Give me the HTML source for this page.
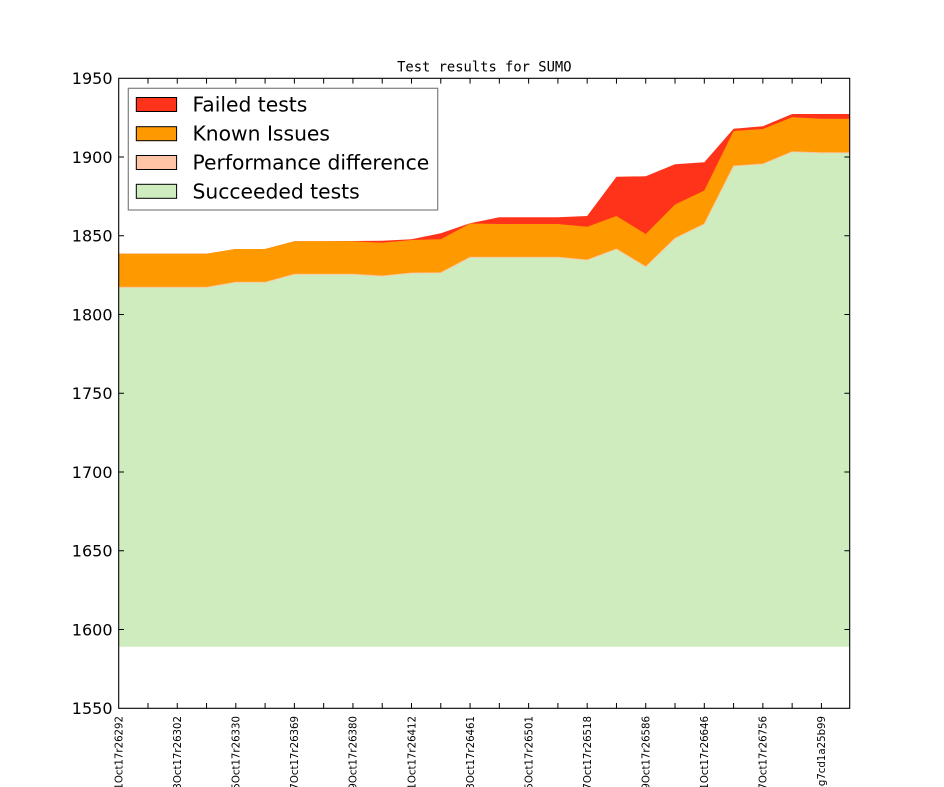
<!DOCTYPE html>
<html>
<head>
<meta charset="utf-8">
<style>
  html,body{margin:0;padding:0;background:#fff;width:944px;height:787px;overflow:hidden;}
  svg{display:block;overflow:hidden;}
  .tk{font-family:"DejaVu Sans","Liberation Sans",sans-serif;}
</style>
</head>
<body>
<svg width="944" height="787" viewBox="0 0 944 787" xmlns="http://www.w3.org/2000/svg">
  <rect x="0" y="0" width="944" height="787" fill="#ffffff"/>
  <defs>
    <clipPath id="ax"><rect x="118.7" y="78.3" width="731" height="630"/></clipPath>
  </defs>

  <text x="484.3" y="71.7" text-anchor="middle" font-family="'DejaVu Sans Mono','Liberation Mono',monospace" font-size="13.8" fill="#000">Test results for SUMO</text>

  <g clip-path="url(#ax)">
    <polygon fill="#ff331a" points="118.7,600 118.7,253.7 147.98,253.7 177.26,253.7 206.54,253.7 235.82,249 265.1,249 294.38,241.3 323.66,241.3 352.94,241.0 382.22,240.7 411.5,239.3 440.78,233.3 470.06,223.3 499.34,217.3 528.62,217.3 557.9,217.3 587.18,216 616.46,176.7 645.74,176.3 675.02,164.3 704.3,162.3 733.58,128.7 762.86,126.3 792.14,114 821.42,114 850.7,114 850.7,600"/>
    <polygon fill="#ff9900" points="118.7,600 118.7,253.7 147.98,253.7 177.26,253.7 206.54,253.7 235.82,249 265.1,249 294.38,241.3 323.66,241.3 352.94,241.3 382.22,242.7 411.5,240 440.78,239.3 470.06,223.5 499.34,224 528.62,224 557.9,224 587.18,226.7 616.46,216 645.74,234 675.02,204.5 704.3,190.5 733.58,131 762.86,129 792.14,117.3 821.42,118.7 850.7,118.7 850.7,600"/>
    <polygon fill="#cfecbf" points="118.7,646.7 118.7,287.3 147.98,287.3 177.26,287.3 206.54,287.3 235.82,282.3 265.1,282.3 294.38,274.3 323.66,274.3 352.94,274.3 382.22,276 411.5,273 440.78,272.7 470.06,257.3 499.34,257.3 528.62,257.3 557.9,257.3 587.18,260 616.46,249 645.74,266.7 675.02,238.3 704.3,224 733.58,166 762.86,164 792.14,151.7 821.42,152.7 850.7,152.7 850.7,646.7"/>
    <polyline fill="none" stroke="#ffc4a5" stroke-width="1" stroke-opacity="0.8" points="118.7,287.3 147.98,287.3 177.26,287.3 206.54,287.3 235.82,282.3 265.1,282.3 294.38,274.3 323.66,274.3 352.94,274.3 382.22,276 411.5,273 440.78,272.7 470.06,257.3 499.34,257.3 528.62,257.3 557.9,257.3 587.18,260 616.46,249 645.74,266.7 675.02,238.3 704.3,224 733.58,166 762.86,164 792.14,151.7 821.42,152.7 850.7,152.7"/>
  </g>

  <rect x="118.7" y="78.3" width="731" height="630" fill="none" stroke="#000" stroke-width="1.1"/>

  <g stroke="#000" stroke-width="1">
    <path d="M147.98,708.3V703M177.26,708.3V703M206.54,708.3V703M235.82,708.3V703M265.1,708.3V703M294.38,708.3V703M323.66,708.3V703M352.94,708.3V703M382.22,708.3V703M411.5,708.3V703M440.78,708.3V703M470.06,708.3V703M499.34,708.3V703M528.62,708.3V703M557.9,708.3V703M587.18,708.3V703M616.46,708.3V703M645.74,708.3V703M675.02,708.3V703M704.3,708.3V703M733.58,708.3V703M762.86,708.3V703M792.14,708.3V703M821.42,708.3V703"/>
    <path d="M147.98,78.3V83.6M177.26,78.3V83.6M206.54,78.3V83.6M235.82,78.3V83.6M265.1,78.3V83.6M294.38,78.3V83.6M323.66,78.3V83.6M352.94,78.3V83.6M382.22,78.3V83.6M411.5,78.3V83.6M440.78,78.3V83.6M470.06,78.3V83.6M499.34,78.3V83.6M528.62,78.3V83.6M557.9,78.3V83.6M587.18,78.3V83.6M616.46,78.3V83.6M645.74,78.3V83.6M675.02,78.3V83.6M704.3,78.3V83.6M733.58,78.3V83.6M762.86,78.3V83.6M792.14,78.3V83.6M821.42,78.3V83.6"/>
    <path d="M118.7,157.05H124M118.7,235.8H124M118.7,314.55H124M118.7,393.3H124M118.7,472.05H124M118.7,550.8H124M118.7,629.55H124"/>
    <path d="M849.7,157.05H844.4M849.7,235.8H844.4M849.7,314.55H844.4M849.7,393.3H844.4M849.7,472.05H844.4M849.7,550.8H844.4M849.7,629.55H844.4"/>
  </g>

  <g class="tk" font-size="16" fill="#000" text-anchor="end">
    <text x="112.5" y="84">1950</text>
    <text x="112.5" y="162.8">1900</text>
    <text x="112.5" y="241.5">1850</text>
    <text x="112.5" y="320.3">1800</text>
    <text x="112.5" y="399">1750</text>
    <text x="112.5" y="477.8">1700</text>
    <text x="112.5" y="556.5">1650</text>
    <text x="112.5" y="635.3">1600</text>
    <text x="112.5" y="714">1550</text>
  </g>

  <g class="tk" font-size="10.2" fill="#000" text-anchor="end">
    <text transform="translate(122.5,716) rotate(-90)">1Oct17r26292</text>
    <text transform="translate(181.1,716) rotate(-90)">3Oct17r26302</text>
    <text transform="translate(239.6,716) rotate(-90)">5Oct17r26330</text>
    <text transform="translate(298.2,716) rotate(-90)">7Oct17r26369</text>
    <text transform="translate(356.7,716) rotate(-90)">9Oct17r26380</text>
    <text transform="translate(415.3,716) rotate(-90)">1Oct17r26412</text>
    <text transform="translate(473.9,716) rotate(-90)">3Oct17r26461</text>
    <text transform="translate(532.4,716) rotate(-90)">5Oct17r26501</text>
    <text transform="translate(591,716) rotate(-90)">7Oct17r26518</text>
    <text transform="translate(649.5,716) rotate(-90)">9Oct17r26586</text>
    <text transform="translate(708.1,716) rotate(-90)">1Oct17r26646</text>
    <text transform="translate(766.7,716) rotate(-90)">7Oct17r26756</text>
    <text transform="translate(825.2,716) rotate(-90)">-g7cd1a25b99</text>
  </g>

  <rect x="128.3" y="88.3" width="309.4" height="121.7" fill="#ffffff" stroke="#808080" stroke-width="1.2"/>
  <g stroke="#000" stroke-width="1">
    <rect x="136.3" y="97.5" width="40.3" height="14" fill="#ff331a"/>
    <rect x="136.3" y="126.7" width="40.3" height="14" fill="#ff9900"/>
    <rect x="136.3" y="155.5" width="40.3" height="14" fill="#ffc4a5"/>
    <rect x="136.3" y="184.3" width="40.3" height="14" fill="#cfecbf"/>
  </g>
  <g class="tk" font-size="20.3" fill="#000">
    <text x="192.5" y="111.7">Failed tests</text>
    <text x="192.5" y="140.6">Known Issues</text>
    <text x="192.5" y="169.5">Performance difference</text>
    <text x="192.5" y="198.4">Succeeded tests</text>
  </g>
</svg>
</body>
</html>
